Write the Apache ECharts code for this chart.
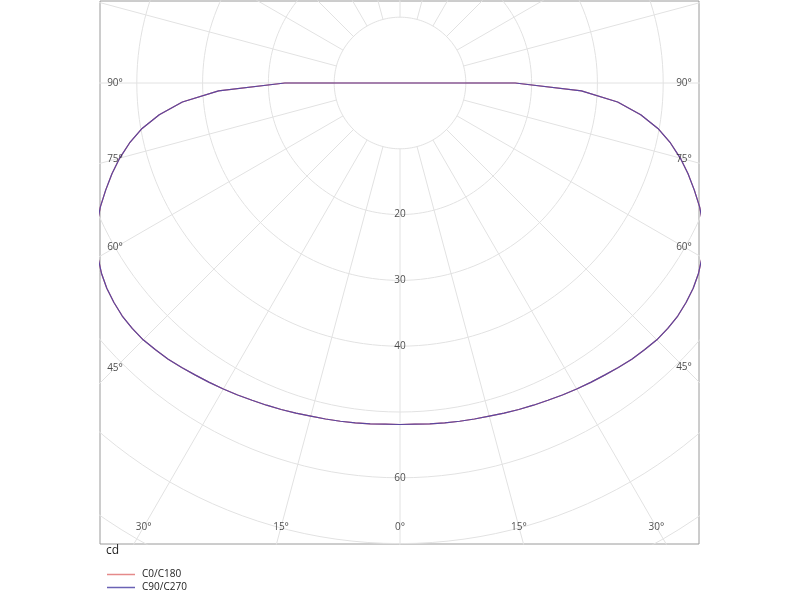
<!DOCTYPE html>
<html><head><meta charset="utf-8">
<script src="https://cdn.jsdelivr.net/npm/echarts@6/dist/echarts.min.js"></script>
<style>html,body{margin:0;padding:0;background:#fff}#c{width:800px;height:600px}</style>
</head><body><div id="c"></div>
<script>
// ---- data ----
const gammaAngles = [0,2.5,5,7.5,10,12.5,15,17.5,20,22.5,25,27.5,30,32.5,35,37.5,40,42.5,45,47.5,50,52.5,55,57.5,60,62.5,65,67.5,70,72.5,75,77.5,80,82.5,85,87.5,90,95,100,110,120,130,140,150,160,170,180];
const c0c180  = [51.9,51.9,52.0,52.1,52.2,52.3,52.4,52.6,52.8,53.0,53.2,53.45,53.7,53.95,54.2,54.5,54.8,55.0,55.2,55.2,55.1,54.8,54.4,53.8,53.0,52.0,50.8,49.3,47.6,45.9,44.1,42.1,39.8,36.9,33.2,27.6,17.5,0,0,0,0,0,0,0,0,0,0];
const c90c270 = [51.9,51.9,52.0,52.1,52.2,52.3,52.4,52.6,52.8,53.0,53.2,53.45,53.7,53.95,54.2,54.5,54.8,55.0,55.2,55.2,55.1,54.8,54.4,53.8,53.0,52.0,50.8,49.3,47.6,45.9,44.1,42.1,39.8,36.9,33.2,27.6,17.5,0,0,0,0,0,0,0,0,0,0];
const seriesNames = ['C0/C180','C90/C270'];
const radiusTickLabels = [20,30,40,60];
const circleRadii = [10,20,30,40,50,60,70,80];
const rayAngles = [0,15,30,45,60,75,90,105,120,135,150,165,180,195,210,225,240,255,270,285,300,315,330,345];
const angleTickLabels = [0,15,30,45,60,75,90];
const unitLabel = 'cd';

// ---- layout ----
const S = 6.58;                 // px per cd
const G = {left:100, top:1, width:599, height:543};
const CX = 300, CY = 82;        // centre offset inside grid (px)
const xMin = -CX / S, xMax = (G.width - CX) / S;
const yMax = CY / S, yMin = -(G.height - CY) / S;
const toXY = (r, deg, side) => {
  const a = deg * Math.PI / 180;
  return [side * r * Math.sin(a), -r * Math.cos(a)];
};

const gridColor = '#e2e2e2';
const textColor = '#222';
const legendColors = ['#e58a8a', '#6a62b4'];
const series = [];

// circles
circleRadii.forEach(r => {
  const pts = [];
  for (let d = 0; d <= 360; d += 2) pts.push(toXY(r, d, 1));
  series.push({type:'line', data:pts, symbol:'none', silent:true, z:1,
    lineStyle:{color:gridColor, width:1}, animation:false});
});
// rays
rayAngles.forEach(d => {
  series.push({type:'line', data:[toXY(10, d, 1), toXY(95, d, 1)], symbol:'none', silent:true, z:1,
    lineStyle:{color:gridColor, width:1}, animation:false});
});

// curves
function curve(vals) {
  const pts = [];
  for (let i = 0; i < gammaAngles.length; i++) pts.push(toXY(vals[i], gammaAngles[i], -1));
  for (let i = gammaAngles.length - 1; i >= 0; i--) pts.push(toXY(vals[i], gammaAngles[i], 1));
  return pts;
}
series.push({name:seriesNames[0], type:'line', data:curve(c0c180), symbol:'none', z:3,
  color:legendColors[0], lineStyle:{color:'#e06868', width:1.2}, animation:false});
series.push({name:seriesNames[1], type:'line', data:curve(c90c270), symbol:'none', z:4,
  color:legendColors[1], lineStyle:{color:'#4b43a6', width:1.2, opacity:0.9}, animation:false});

// radius labels
series.push({type:'scatter', symbolSize:1, itemStyle:{color:'rgba(0,0,0,0)'}, silent:true, z:5,
  data: radiusTickLabels.map(r => ({value:[0, -r], name:String(r)})),
  label:{show:true, position:'inside', formatter:'{b}', color:textColor, fontSize:10, fontFamily:'Open Sans'},
  animation:false});

// angle labels along the rays, inset from the frame
const insetX = 15 / S, insetY = 17 / S;
const angPts = [];
angleTickLabels.forEach(d => {
  [-1, 1].forEach(side => {
    if (d === 0 && side === 1) return;
    const a = d * Math.PI / 180;
    const sideLim = (side < 0 ? -xMin : xMax) - insetX;
    const botLim = -yMin - insetY;
    const ts = Math.sin(a) > 1e-6 ? sideLim / Math.sin(a) : Infinity;
    const tb = Math.cos(a) > 1e-6 ? botLim / Math.cos(a) : Infinity;
    const t = Math.min(ts, tb);
    angPts.push({value: toXY(t, d, side), name: d + '°'});
  });
});
series.push({type:'scatter', symbolSize:1, itemStyle:{color:'rgba(0,0,0,0)'}, silent:true, z:5,
  data: angPts,
  label:{show:true, position:'inside', formatter:'{b}', color:textColor, fontSize:10, fontFamily:'Open Sans'},
  animation:false});

const chart = echarts.init(document.getElementById('c'), null, {renderer:'canvas'});
chart.setOption({
  backgroundColor:'#fff',
  animation:false,
  title:{text:unitLabel, left:106, top:545, padding:0,
    textStyle:{fontSize:12, fontWeight:'normal', color:textColor, fontFamily:'Open Sans'}},
  legend:{
    data: seriesNames.map((n, i) => ({name:n, itemStyle:{color:legendColors[i]}})),
    orient:'vertical', left:107, top:568, height:40, padding:0,
    itemWidth:28, itemHeight:1.5, itemGap:0, icon:'rect',
    textStyle:{fontSize:10, color:textColor, fontFamily:'Open Sans', lineHeight:13, padding:[0,0,0,2]}},
  grid:{left:G.left, top:G.top, width:G.width, height:G.height, show:true, borderColor:'#9a9a9a', borderWidth:1},
  xAxis:{type:'value', min:xMin, max:xMax, show:false},
  yAxis:{type:'value', min:yMin, max:yMax, show:false},
  series: series
});
</script></body></html>
